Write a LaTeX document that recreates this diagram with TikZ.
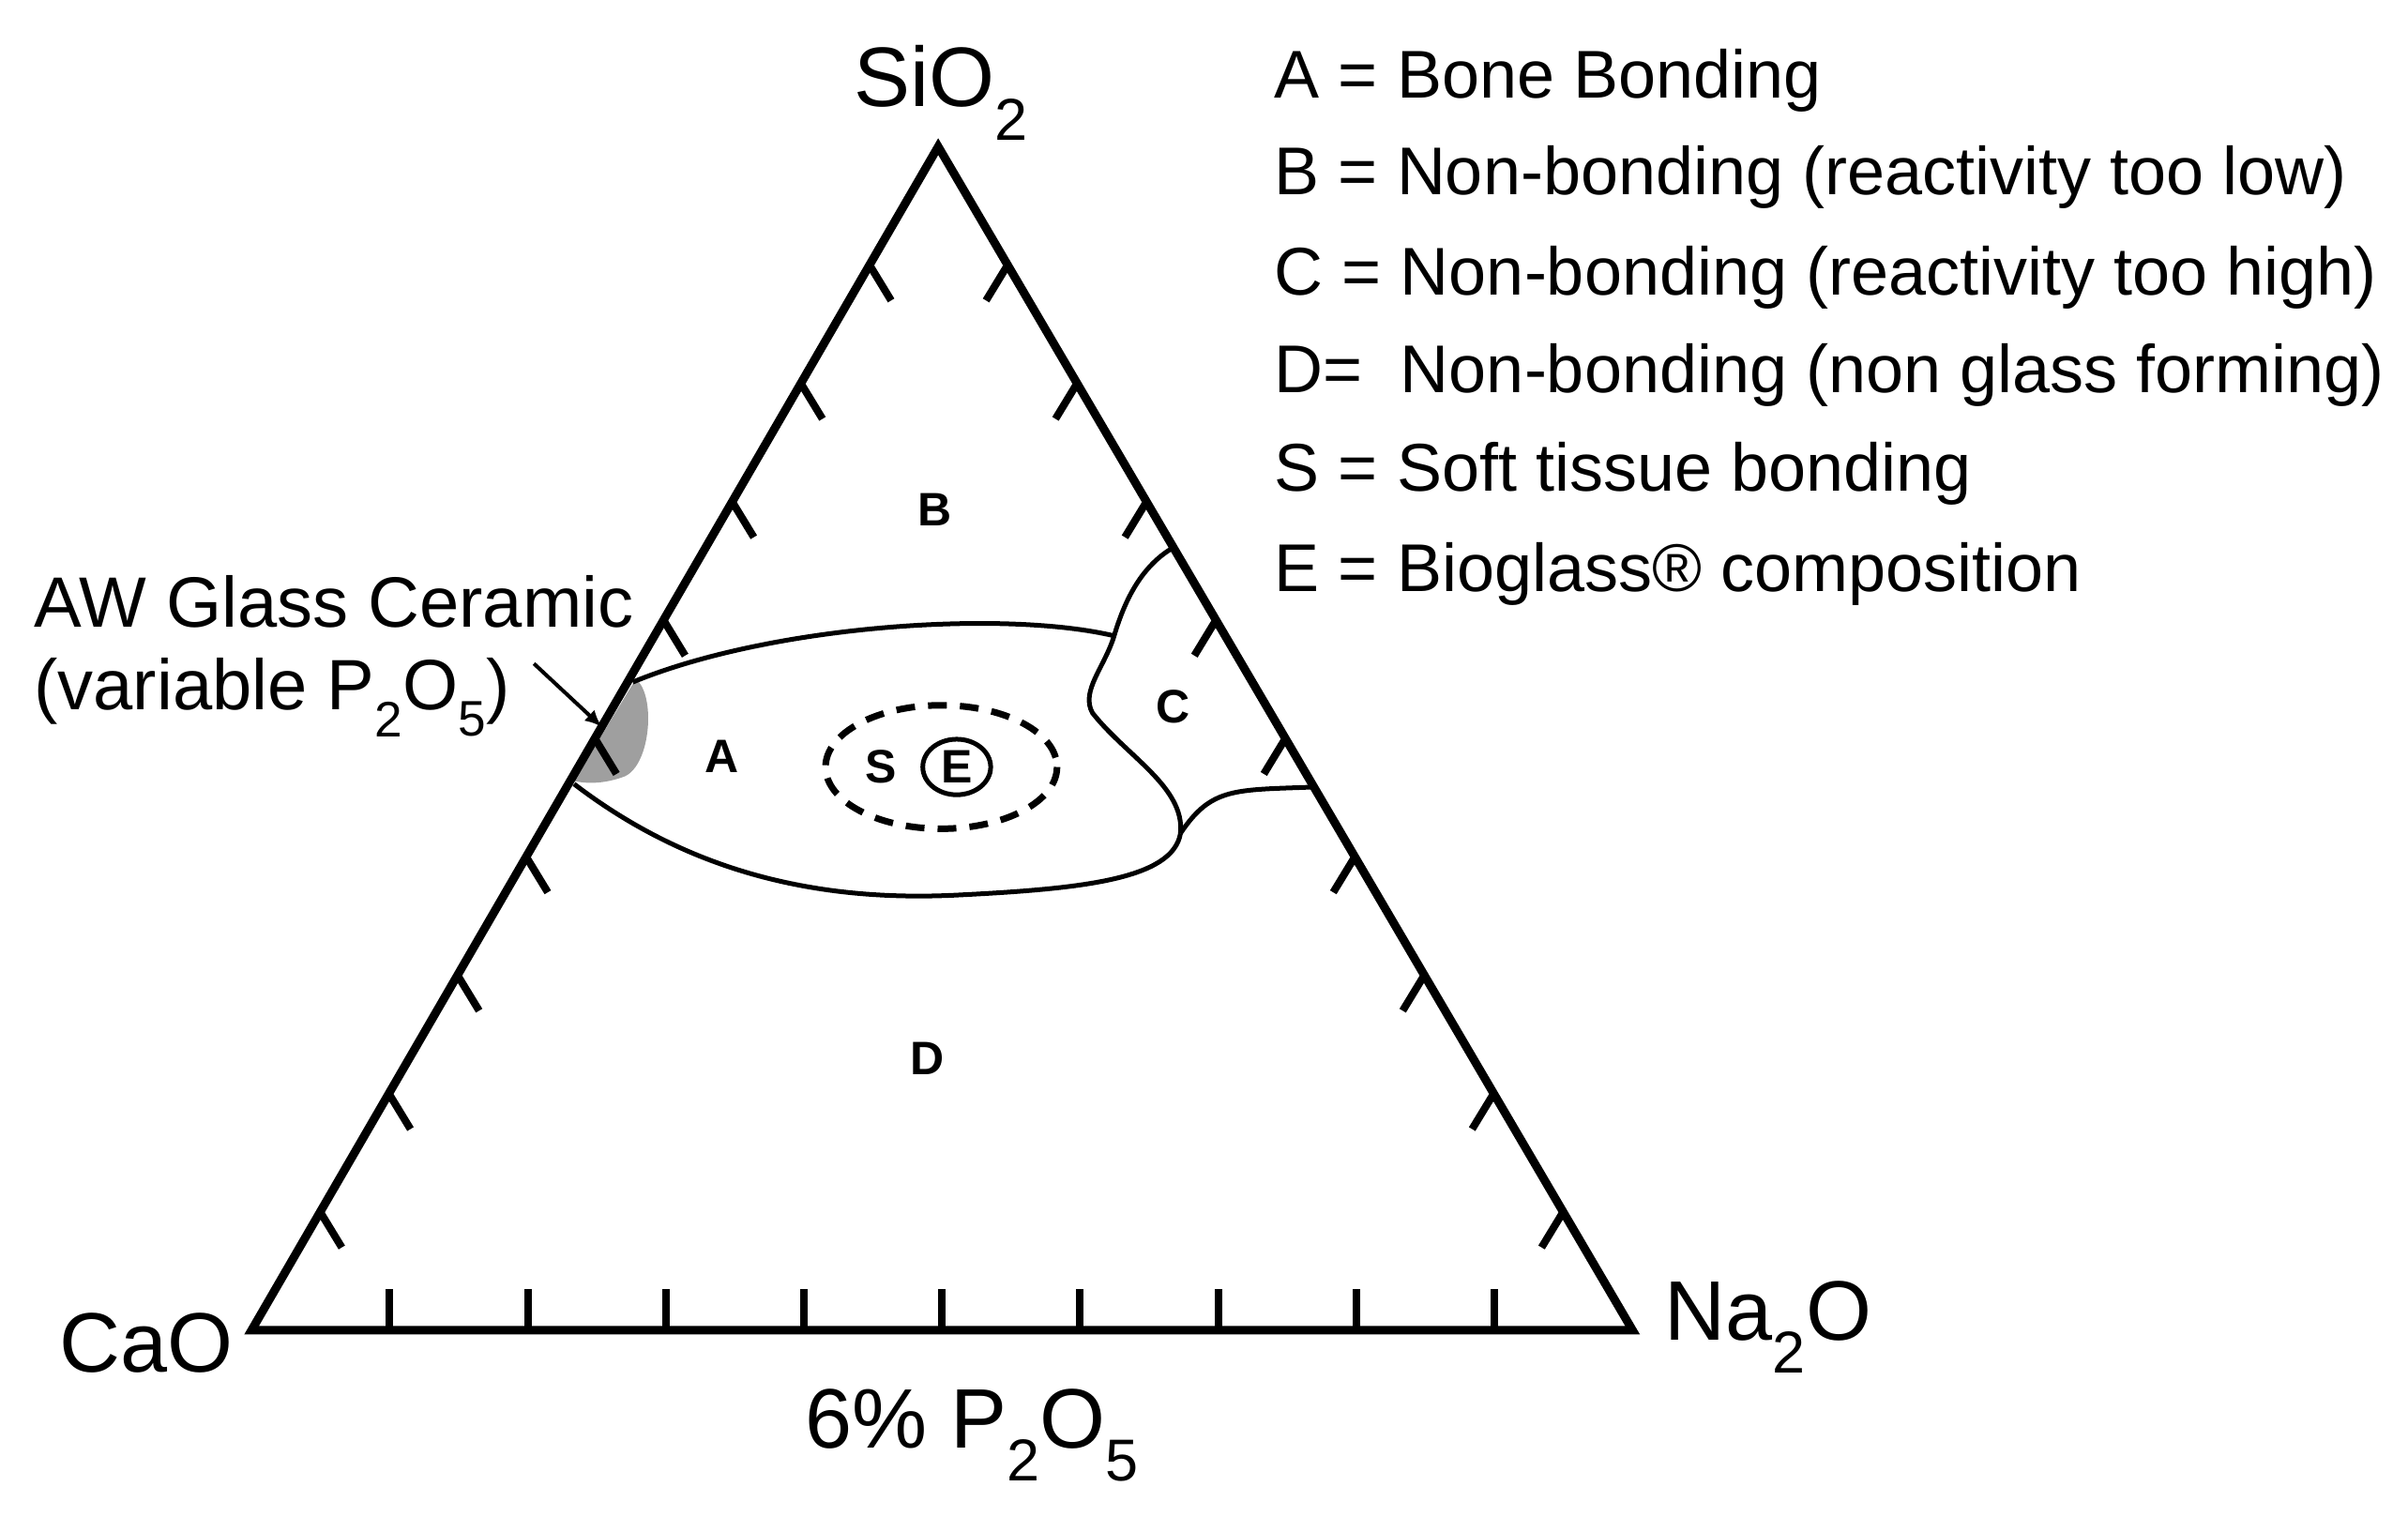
\documentclass[tikz,border=0pt]{standalone}
\usepackage{fontspec}
\setmainfont{Liberation Sans}
\usetikzlibrary{arrows.meta,calc}
\begin{document}
\begin{tikzpicture}[x=1.645pt,y=-1.645pt,
  edge/.style={line width=9pt},
  tick/.style={line width=8pt},
  bound/.style={line width=5pt},
  big/.style={font=\fontsize{90}{100}\selectfont, inner sep=0pt},
  leg/.style={font=\fontsize{72}{82}\selectfont, anchor=west, inner sep=0pt},
  reg/.style={font=\fontsize{50}{56}\selectfont\bfseries, inner sep=0pt}]
\useasboundingbox (0,0) rectangle (1560.5,982.4);
\coordinate (T) at (608,95);
\coordinate (L) at (163,862);
\coordinate (R) at (1058,862);
% AW shaded region
\fill[gray!75] (412,440) .. controls (425,450) and (422,495) .. (405,503) .. controls (392,508) and (380,508) .. (372,506) -- cycle;
\draw[edge, line join=miter] (T) -- (L) -- (R) -- cycle;
\foreach \k in {1,...,9}{
  \draw[tick] ($(L)!\k/10!(R)$) -- ++(0,-27);
  \draw[tick] ($(L)!\k/10!(T)$) -- ++(14,23);
  \draw[tick] ($(R)!\k/10!(T)$) -- ++(-14,23);
}
% boundaries
\coordinate (ct) at (760,355);
\coordinate (cj) at (722,412);
\coordinate (cb) at (765,540);
\coordinate (cr) at (851,510);
\coordinate (at) at (410,442);
\coordinate (ab) at (372,508);
\draw[bound] (ct) .. controls (738,368) and (728,392) .. (cj)
  .. controls (716,432) and (700,448) .. (708,462)
  .. controls (730,490) and (768,510) .. (cb);
\draw[bound] (at) .. controls (500,405) and (650,395) .. (cj);
\draw[bound] (cb) .. controls (785,510) and (800,512) .. (cr);
\draw[bound] (ab) .. controls (440,560) and (520,585) .. (620,580)
  .. controls (700,576) and (760,570) .. (cb);
% S / E
\draw[line width=7pt, dash pattern=on 20pt off 14pt] (610,497) ellipse [x radius=75, y radius=40];
\draw[line width=5pt] (620,497) ellipse [x radius=22, y radius=18];
\node[reg] (nS) at (571,497) {S};
\node[reg] (nE) at (620,497) {E};
\node[reg] (nA) at (468,490) {A};
\node[reg] (nB) at (606,330) {B};
\node[reg] (nC) at (760,458) {C};
\node[reg] (nD) at (601,686) {D};
% vertex labels
\node[big] (si) at (610,60) {SiO\textsubscript{2}};
\node[big] (ca) at (95,870) {CaO};
\node[big] (na) at (1146,860) {Na\textsubscript{2}O};
\node[big] (pp) at (630,930) {6\% P\textsubscript{2}O\textsubscript{5}};
% AW label
\node[leg, font=\fontsize{76}{86}\selectfont] (aw1) at (22,390) {AW Glass Ceramic};
\node[leg, font=\fontsize{76}{86}\selectfont] (aw2) at (22,452) {(variable P\textsubscript{2}O\textsubscript{5})};
\coordinate (aws) at (346,430);
\coordinate (awe) at (390,471);
\draw[line width=4pt, -{Latex[length=18pt,width=16pt]}] (aws) -- (awe);
% legend
\node[leg] (l1) at (826,52) {A = Bone Bonding};
\node[leg] (l2) at (826,115) {B = Non-bonding (reactivity too low)};
\node[leg] (l3) at (826,180) {C = Non-bonding (reactivity too high)};
\node[leg] (l4) at (826,243) {D=\ \ Non-bonding (non glass forming)};
\node[leg] (l5) at (826,307) {S = Soft tissue bonding};
\node[leg] (l6) at (826,372) {E = Bioglass® composition};
\end{tikzpicture}
\end{document}
